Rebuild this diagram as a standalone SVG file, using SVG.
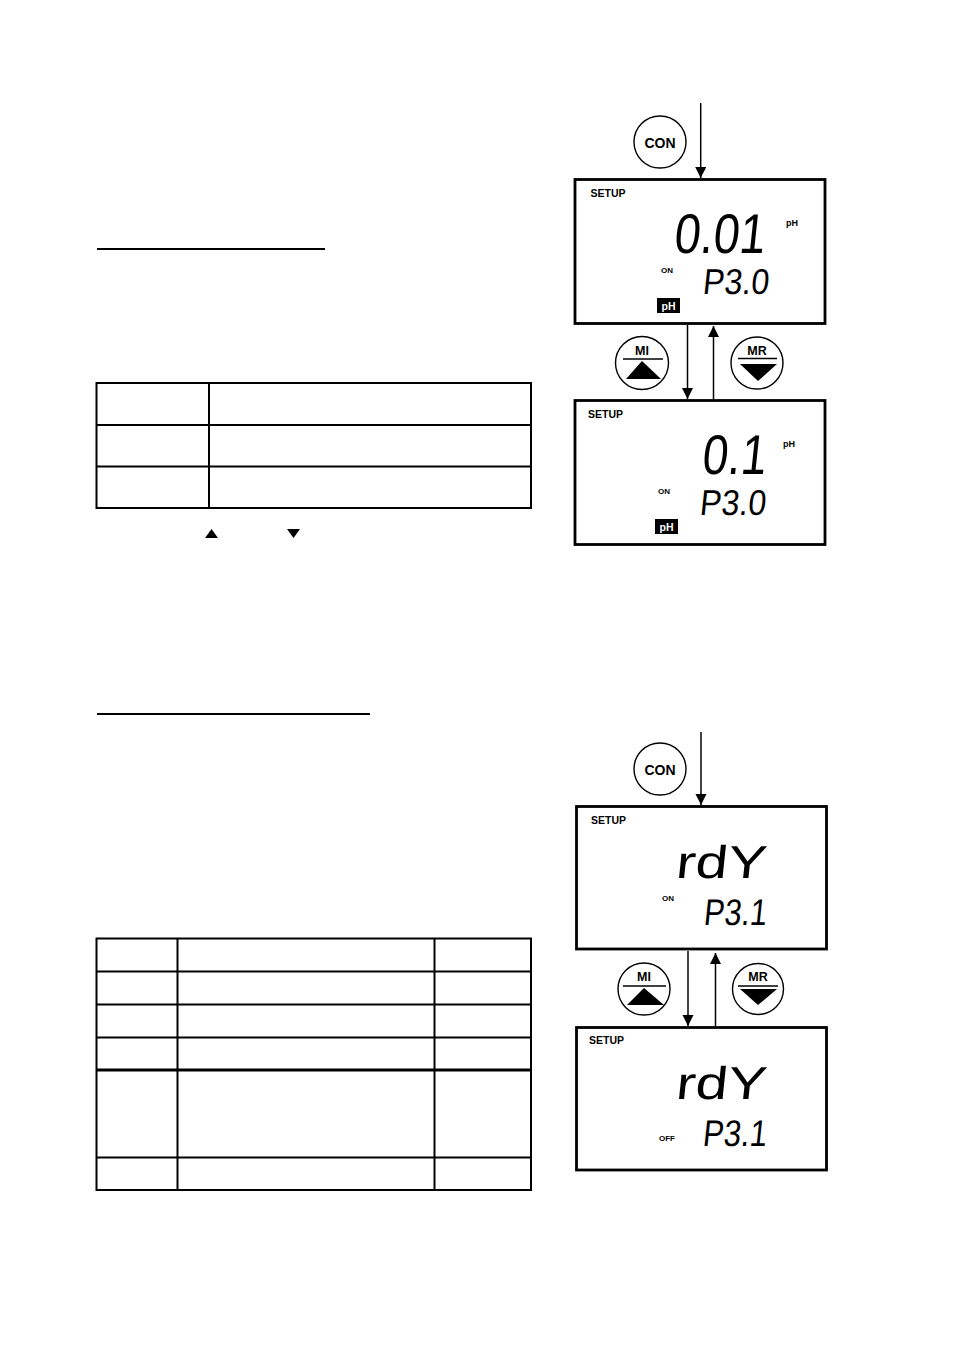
<svg xmlns="http://www.w3.org/2000/svg" width="954" height="1352" viewBox="0 0 954 1352">
<style>
.lcd{fill:#fff;stroke:#000;stroke-width:2.8}
.btn{fill:#fff;stroke:#000;stroke-width:1.4}
.tbl{fill:none;stroke:#000;stroke-width:2}
.lbl{font-family:"Liberation Sans",Arial,sans-serif;font-weight:bold;fill:#000}
.seg{font-family:"Liberation Sans",Arial,sans-serif;font-weight:normal;fill:#000}
.conn{stroke:#000;stroke-width:1.5;fill:none}
</style>
<defs>
<marker id="ah" markerUnits="userSpaceOnUse" markerWidth="12" markerHeight="13" refX="11" refY="5.5" orient="auto">
<path d="M0,0 L11,5.5 L0,11 Z" fill="#000"/>
</marker>
</defs>
<rect width="954" height="1352" fill="#fff"/>

<!-- left column: underlines and tables -->
<g id="heading1"><line x1="97" y1="249" x2="325" y2="249" stroke="#000" stroke-width="2.2"/></g>
<g id="table1">
<rect class="tbl" x="96.5" y="383" width="434.5" height="125"/>
<line class="tbl" x1="209" y1="383" x2="209" y2="508"/>
<line class="tbl" x1="96.5" y1="425" x2="531" y2="425"/>
<line class="tbl" x1="96.5" y1="466.5" x2="531" y2="466.5"/>
</g>
<g id="keys">
<path d="M205,538 L218,538 L211.5,529 Z" fill="#000"/>
<path d="M287,529 L300,529 L293.5,538 Z" fill="#000"/>
</g>
<g id="heading2"><line x1="97" y1="714" x2="370" y2="714" stroke="#000" stroke-width="2.2"/></g>
<g id="table2">
<rect class="tbl" x="96.5" y="938.5" width="434.5" height="251.5"/>
<line class="tbl" x1="177.5" y1="938.5" x2="177.5" y2="1190"/>
<line class="tbl" x1="434.5" y1="938.5" x2="434.5" y2="1190"/>
<line class="tbl" x1="96.5" y1="971.5" x2="531" y2="971.5"/>
<line class="tbl" x1="96.5" y1="1004.5" x2="531" y2="1004.5"/>
<line class="tbl" x1="96.5" y1="1037.5" x2="531" y2="1037.5"/>
<line x1="96.5" y1="1070" x2="531" y2="1070" stroke="#000" stroke-width="3"/>
<line class="tbl" x1="96.5" y1="1157.5" x2="531" y2="1157.5"/>
</g>

<!-- connectors -->
<g id="connectors">
<line class="conn" x1="700.7" y1="103" x2="700.7" y2="178" marker-end="url(#ah)"/>
<line class="conn" x1="687.5" y1="325" x2="687.5" y2="399" marker-end="url(#ah)"/>
<line class="conn" x1="713.5" y1="399" x2="713.5" y2="326" marker-end="url(#ah)"/>
<line class="conn" x1="701" y1="732" x2="701" y2="805" marker-end="url(#ah)"/>
<line class="conn" x1="688" y1="951" x2="688" y2="1026" marker-end="url(#ah)"/>
<line class="conn" x1="715.5" y1="1026" x2="715.5" y2="953" marker-end="url(#ah)"/>
</g>

<!-- top section buttons -->
<g id="con1">
<circle class="btn" cx="660" cy="142" r="26"/>
<text class="lbl" x="660" y="147.5" font-size="14" text-anchor="middle">CON</text>
</g>
<g id="mi1">
<circle class="btn" cx="642" cy="363" r="26.5"/>
<text class="lbl" x="642" y="355" font-size="12.5" text-anchor="middle">MI</text>
<line x1="623" y1="359" x2="663" y2="359" stroke="#000" stroke-width="1.6"/>
<path d="M626,379 L661,379 L642,361 Z" fill="#000"/>
</g>
<g id="mr1">
<circle class="btn" cx="757" cy="363" r="26"/>
<text class="lbl" x="757" y="355" font-size="12.5" text-anchor="middle">MR</text>
<line x1="738" y1="358.5" x2="777" y2="358.5" stroke="#000" stroke-width="1.6"/>
<path d="M740,364 L777,364 L758,381 Z" fill="#000"/>
</g>

<!-- LCD 1 -->
<g id="lcd1">
<rect class="lcd" x="575" y="179.5" width="250" height="144"/>
<text class="lbl" x="590.5" y="197" font-size="10.5">SETUP</text>
<text class="seg" transform="translate(673,253) skewX(-6)" font-size="56" textLength="91" lengthAdjust="spacingAndGlyphs">0.01</text>
<text class="lbl" x="786" y="226" font-size="9">pH</text>
<text class="lbl" x="661" y="273" font-size="8">ON</text>
<text class="seg" transform="translate(702,294) skewX(-6)" font-size="36" textLength="66" lengthAdjust="spacingAndGlyphs">P3.0</text>
<rect x="657" y="298" width="23" height="15" fill="#000"/>
<text class="lbl" x="668.5" y="310" font-size="10.5" text-anchor="middle" style="fill:#fff">pH</text>
</g>

<!-- LCD 2 -->
<g id="lcd2">
<rect class="lcd" x="575" y="400.5" width="250" height="144"/>
<text class="lbl" x="588" y="418" font-size="10.5">SETUP</text>
<text class="seg" transform="translate(701,474) skewX(-6)" font-size="56" textLength="64" lengthAdjust="spacingAndGlyphs">0.1</text>
<text class="lbl" x="783" y="447" font-size="9">pH</text>
<text class="lbl" x="658" y="494" font-size="8">ON</text>
<text class="seg" transform="translate(699,515) skewX(-6)" font-size="36" textLength="66" lengthAdjust="spacingAndGlyphs">P3.0</text>
<rect x="655" y="519" width="23" height="15" fill="#000"/>
<text class="lbl" x="666.5" y="531" font-size="10.5" text-anchor="middle" style="fill:#fff">pH</text>
</g>

<!-- bottom section buttons -->
<g id="con2">
<circle class="btn" cx="660" cy="769" r="26"/>
<text class="lbl" x="660" y="774.5" font-size="14" text-anchor="middle">CON</text>
</g>
<g id="mi2">
<circle class="btn" cx="644" cy="989" r="26"/>
<text class="lbl" x="644" y="981" font-size="12.5" text-anchor="middle">MI</text>
<line x1="623" y1="986" x2="666" y2="986" stroke="#000" stroke-width="1.6"/>
<path d="M627,1005 L664,1005 L644,988 Z" fill="#000"/>
</g>
<g id="mr2">
<circle class="btn" cx="758" cy="989" r="25.5"/>
<text class="lbl" x="758" y="981" font-size="12.5" text-anchor="middle">MR</text>
<line x1="738" y1="986" x2="778" y2="986" stroke="#000" stroke-width="1.6"/>
<path d="M740,989 L777,989 L758,1005 Z" fill="#000"/>
</g>

<!-- LCD 3 -->
<g id="lcd3">
<rect class="lcd" x="576.5" y="806.5" width="250" height="142.5"/>
<text class="lbl" x="591" y="824" font-size="10.5">SETUP</text>
<text class="seg" transform="translate(675,878) skewX(-6)" font-size="46" textLength="90" lengthAdjust="spacingAndGlyphs">rdY</text>
<text class="lbl" x="662" y="900.5" font-size="8">ON</text>
<text class="seg" transform="translate(703,925) skewX(-6)" font-size="37" textLength="63" lengthAdjust="spacingAndGlyphs">P3.1</text>
</g>

<!-- LCD 4 -->
<g id="lcd4">
<rect class="lcd" x="576.5" y="1027.5" width="250" height="142.5"/>
<text class="lbl" x="589" y="1044" font-size="10.5">SETUP</text>
<text class="seg" transform="translate(675,1099) skewX(-6)" font-size="46" textLength="90" lengthAdjust="spacingAndGlyphs">rdY</text>
<text class="lbl" x="659" y="1141" font-size="8">OFF</text>
<text class="seg" transform="translate(702,1146) skewX(-6)" font-size="37" textLength="64" lengthAdjust="spacingAndGlyphs">P3.1</text>
</g>
</svg>
